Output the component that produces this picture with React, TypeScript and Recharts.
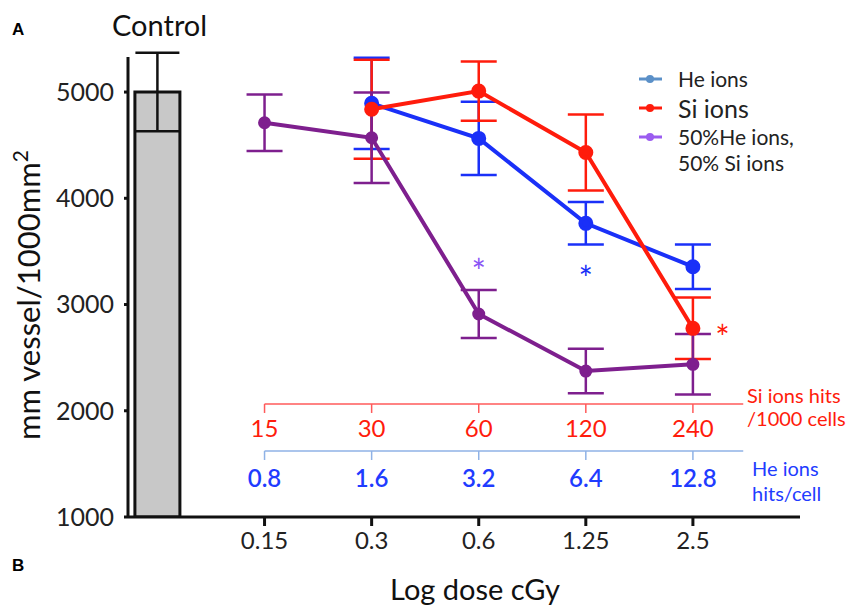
import React from 'react';
import {
  Bar,
  ComposedChart,
  ErrorBar,
  Line,
  ReferenceDot,
  ReferenceLine,
  Scatter,
  XAxis,
  YAxis,
} from 'recharts';

// values
const categories = ['Control', '0.15', '0.3', '0.6', '1.25', '2.5'];
const controlValues = [5000, null, null, null, null, null];
const controlErrors = [370, null, null, null, null, null];
const heValues = [null, null, 4894, 4564, 3764, 3356];
const heErrors = [null, null, 430, 345, 200, 210];
const siValues = [null, null, 4838, 5009, 4431, 2776];
const siErrors = [null, null, 465, 278, 357, 289];
const mixValues = [null, 4711, 4570, 2911, 2374, 2437];
const mixErrors = [null, 265, 425, 225, 210, 285];
const siHits = ['15', '30', '60', '120', '240'];
const heHits = ['0.8', '1.6', '3.2', '6.4', '12.8'];
const yTicks = [1000, 2000, 3000, 4000, 5000];

const FONT = 'Lato, "Noto Sans", sans-serif';
const BLUE = '#1a30f8';
const RED = '#ff1c0c';
const PURPLE = '#7e1f8e';

// levels of the two hit-count rulers, in data units
const SI_ROW = 2064;
const HE_ROW = 1621;
const ROW_END = 5.47;

const data = categories.map((c, i) => ({
  x: i,
  label: c,
  control: controlValues[i],
  controlErr: controlErrors[i],
  he: heValues[i],
  heErr: heErrors[i],
  si: siValues[i],
  siErr: siErrors[i],
  mix: mixValues[i],
  mixErr: mixErrors[i],
}));

const siRow = siHits.map((h, i) => ({ x: i + 1, y: SI_ROW, text: h }));
const heRow = heHits.map((h, i) => ({ x: i + 1, y: HE_ROW, text: h }));

const rowShape = (color: string, tickColor: string, weight: number, dy: number) => (props: any) => {
  const { cx, cy, payload } = props;
  return (
    <g>
      <line x1={cx} x2={cx} y1={cy} y2={cy + 9} stroke={tickColor} strokeWidth={1.5} />
      <text
        x={cx}
        y={cy + dy}
        textAnchor="middle"
        dominantBaseline="central"
        fill={color}
        fontSize={24}
        fontWeight={weight}
        fontFamily={FONT}
      >
        {payload.text}
      </text>
    </g>
  );
};

const star = (color: string) => (props: any) => (
  <text x={props.cx} y={props.cy + 19} textAnchor="middle" fill={color} fontSize={34} fontFamily={FONT}>
    *
  </text>
);

const LEGEND_ITEMS = [
  { name: ['He ions'], color: '#5b90c8', size: 21, gap: 3 },
  { name: ['Si ions'], color: RED, size: 25, gap: 3 },
  { name: ['50%He ions,', '50% Si ions'], color: '#9b5cf0', size: 21, gap: 0 },
];

const ChartLegend = () => (
  <div style={{ position: 'absolute', left: 636, top: 66, fontFamily: FONT, color: '#222' }}>
    {LEGEND_ITEMS.map((it) => (
      <div key={it.name[0]} style={{ display: 'flex', alignItems: 'flex-start', marginBottom: it.gap }}>
        <svg width={30} height={26} style={{ flex: 'none' }}>
          <line x1={3} x2={26} y1={13} y2={13} stroke={it.color} strokeWidth={3} />
          <circle cx={14} cy={13} r={4} fill={it.color} />
        </svg>
        <div style={{ fontSize: it.size, lineHeight: '26px', marginLeft: 12 }}>
          {it.name.map((n) => (
            <div key={n}>{n}</div>
          ))}
        </div>
      </div>
    ))}
  </div>
);

const abs = (extra: React.CSSProperties): React.CSSProperties => ({
  position: 'absolute',
  fontFamily: FONT,
  whiteSpace: 'nowrap',
  ...extra,
});

export default function App() {
  return (
    <div style={{ position: 'absolute', left: 0, top: 0, width: 851, height: 605, background: '#fff' }}>
      <ComposedChart
        width={851}
        height={605}
        data={data}
        margin={{ top: 57, right: 51, bottom: 48, left: 60 }}
      >
        <XAxis
          dataKey="x"
          type="number"
          domain={[-0.275, 6]}
          ticks={[1, 2, 3, 4, 5]}
          tickFormatter={(v) => categories[v]}
          allowDataOverflow
          height={40}
          stroke="#111"
          strokeWidth={3}
          tickSize={9}
          tickMargin={6}
          tick={{ fill: '#222', fontSize: 24, fontFamily: FONT }}
        />
        <YAxis
          type="number"
          domain={[1000, 5330]}
          ticks={yTicks}
          allowDataOverflow
          width={68}
          stroke="#111"
          strokeWidth={3}
          tickSize={4}
          tickMargin={10}
          tick={{ fill: '#222', fontSize: 25, fontFamily: FONT }}
        />
        <Bar
          dataKey="control"
          barSize={45}
          fill="#c8c8c8"
          stroke="#111"
          strokeWidth={3}
          isAnimationActive={false}
        >
          <ErrorBar dataKey="controlErr" width={22} stroke="#111" strokeWidth={2.5} />
        </Bar>
        <Line
          dataKey="he"
          stroke={BLUE}
          strokeWidth={4}
          dot={{ r: 5.5, fill: BLUE, stroke: BLUE }}
          connectNulls
          isAnimationActive={false}
        >
          <ErrorBar dataKey="heErr" width={18} stroke={BLUE} strokeWidth={2.5} />
        </Line>
        <Line
          dataKey="si"
          stroke={RED}
          strokeWidth={4}
          dot={{ r: 5.5, fill: RED, stroke: RED }}
          isAnimationActive={false}
        >
          <ErrorBar dataKey="siErr" width={18} stroke={RED} strokeWidth={2.5} />
        </Line>
        <Line
          dataKey="mix"
          stroke={PURPLE}
          strokeWidth={4}
          dot={{ r: 4.5, fill: PURPLE, stroke: PURPLE }}
          isAnimationActive={false}
        >
          <ErrorBar dataKey="mixErr" width={18} stroke={PURPLE} strokeWidth={2.5} />
        </Line>
        <ReferenceLine
          segment={[
            { x: 1, y: SI_ROW },
            { x: ROW_END, y: SI_ROW },
          ]}
          stroke="#ff5a5a"
          strokeWidth={1.5}
        />
        <ReferenceLine
          segment={[
            { x: 1, y: HE_ROW },
            { x: ROW_END, y: HE_ROW },
          ]}
          stroke="#8fb2e6"
          strokeWidth={1.5}
        />
        <Scatter
          data={siRow}
          dataKey="y"
          shape={rowShape(RED, '#ff5a5a', 400, 24)}
          isAnimationActive={false}
          legendType="none"
        />
        <Scatter
          data={heRow}
          dataKey="y"
          shape={rowShape('#1f3cff', '#8fb2e6', 600, 26)}
          isAnimationActive={false}
          legendType="none"
        />
        <ReferenceDot x={3} y={3372} r={0} shape={star('#8a55f5')} />
        <ReferenceDot x={4} y={3303} r={0} shape={star(BLUE)} />
        <ReferenceDot x={5.275} y={2751} r={0} shape={star(RED)} />
      </ComposedChart>

      <ChartLegend />
      <div style={abs({ left: 12, top: 20, fontSize: 17, fontWeight: 700, fontFamily: 'Arial, sans-serif' })}>A</div>
      <div style={abs({ left: 12, top: 556, fontSize: 17, fontWeight: 700, fontFamily: 'Arial, sans-serif' })}>B</div>
      <div style={abs({ left: 112, top: 7, fontSize: 29, color: '#111' })}>Control</div>
      <div
        style={abs({
          left: 28,
          top: 295,
          fontSize: 31,
          color: '#111',
          transform: 'translate(-50%, -50%) rotate(-90deg)',
        })}
      >
        mm vessel/1000mm<sup style={{ fontSize: 21, verticalAlign: 'top', position: 'relative', top: -2 }}>2</sup>
      </div>
      <div style={abs({ left: 475, top: 588, fontSize: 29, color: '#111', transform: 'translate(-50%, -50%)' })}>
        Log dose cGy
      </div>
      <div style={abs({ left: 747, top: 384, fontSize: 20, lineHeight: '23px', color: RED })}>
        Si ions hits
        <br />
        /1000 cells
      </div>
      <div style={abs({ left: 752, top: 456, fontSize: 20, lineHeight: '25px', color: '#1f3cff' })}>
        He ions
        <br />
        hits/cell
      </div>
    </div>
  );
}
